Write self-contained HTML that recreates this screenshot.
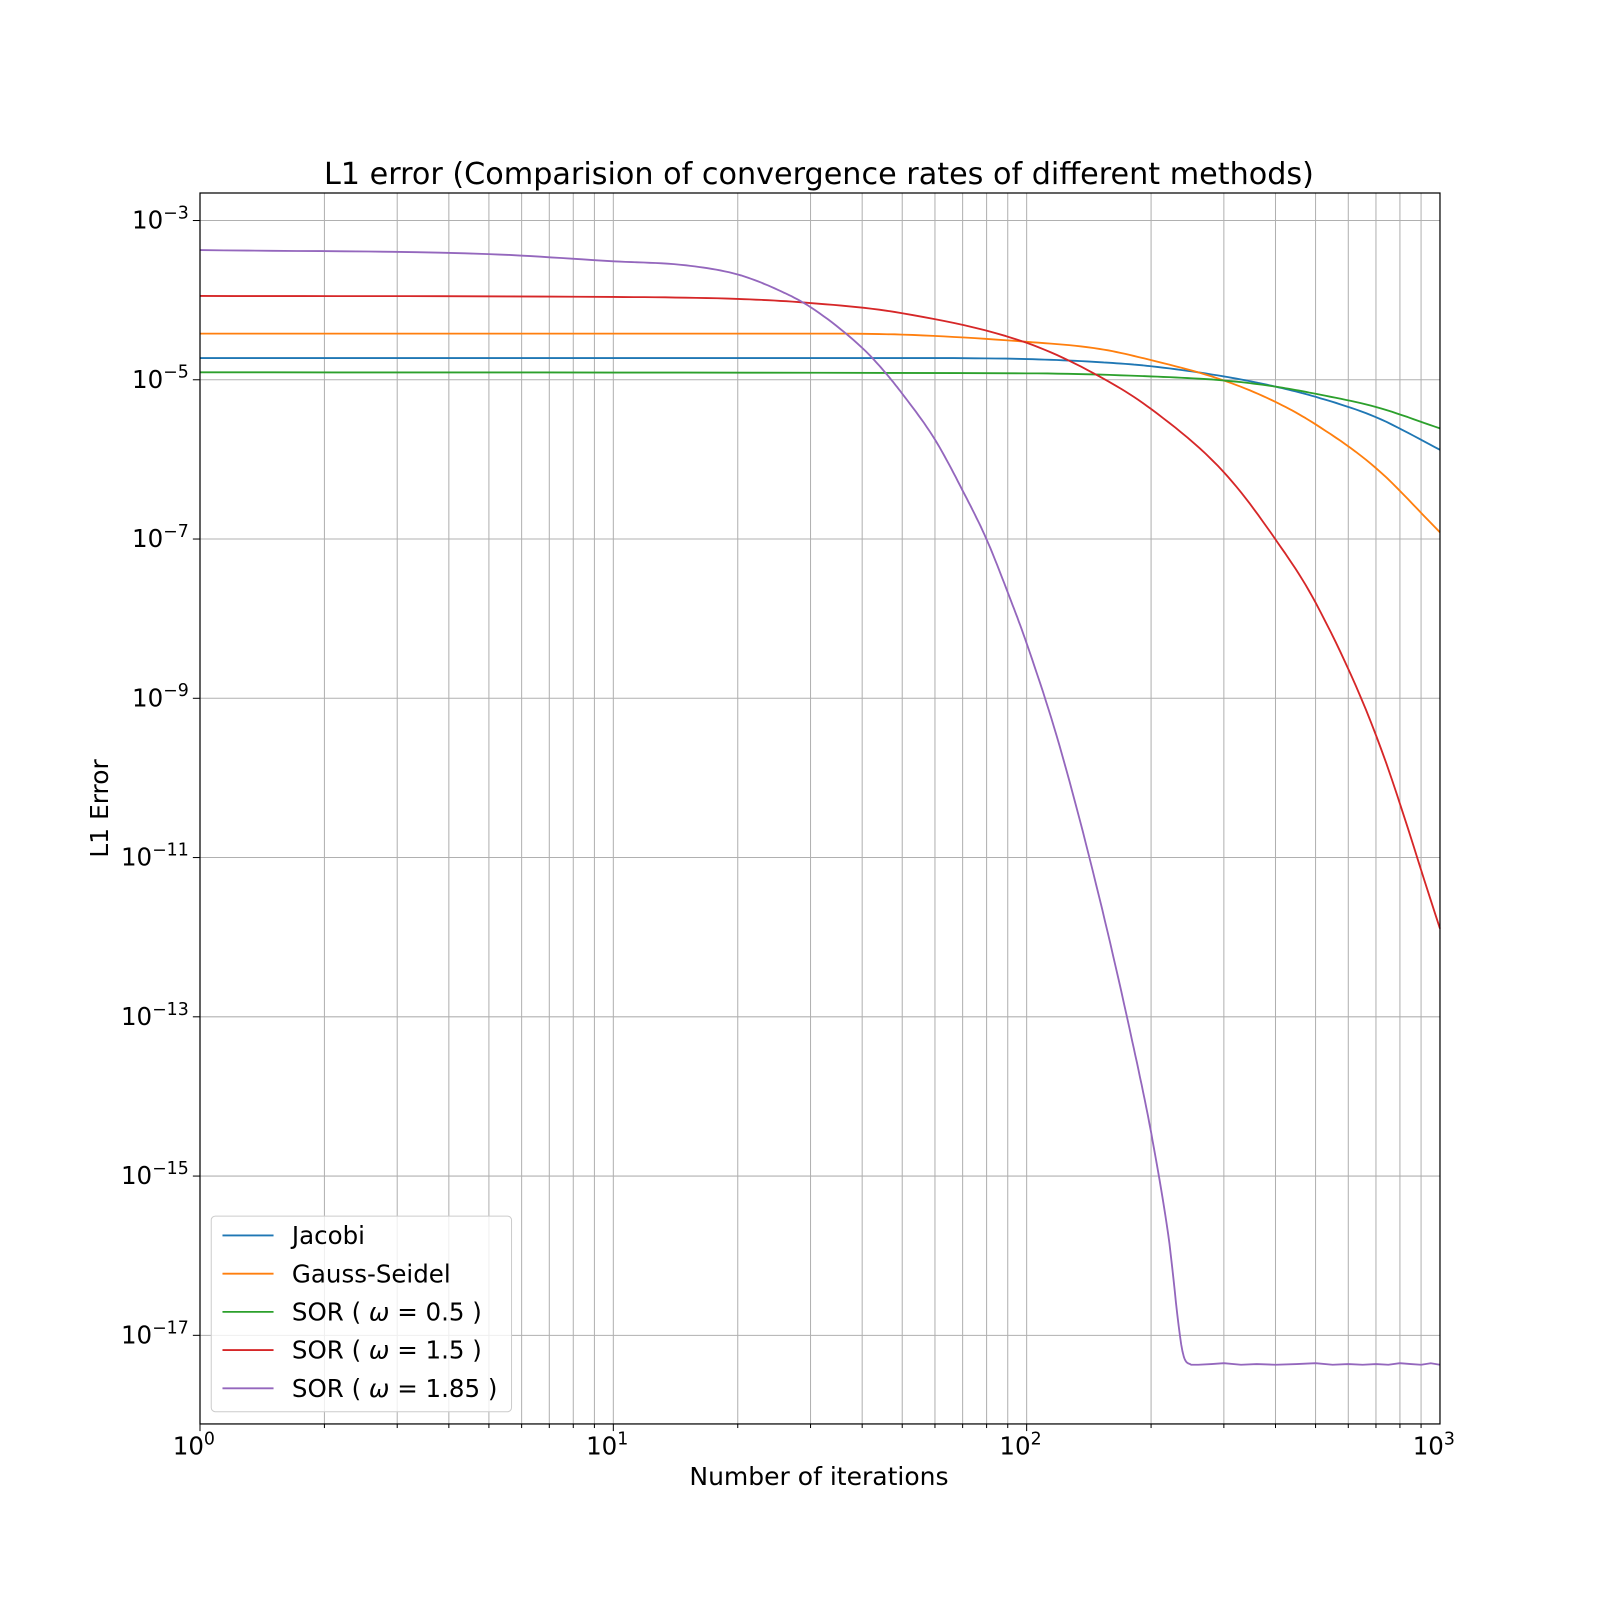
<!DOCTYPE html>
<html><head><meta charset="utf-8"><style>
html,body{margin:0;padding:0;background:#fff;overflow:hidden;width:1600px;height:1600px}
svg{display:block}
svg text{font-family:"DejaVu Sans","Liberation Sans",sans-serif;fill:#000}
</style></head><body>
<svg id="chart" width="1600" height="1600" xmlns="http://www.w3.org/2000/svg">
<rect width="1600" height="1600" fill="#fff"/>
<g transform="translate(200,193) scale(1.0214,1.019) translate(-197,-188)">
<text x="803" y="179" font-size="29.6" text-anchor="middle">L1 error (Comparision of convergence rates of different methods)</text>
<text x="803" y="1456" font-size="24.5" text-anchor="middle">Number of iterations</text>
<text transform="translate(107,792) rotate(-90)" font-size="24.5" text-anchor="middle">L1 Error</text>
<g id="grid"></g><g id="series"></g><g id="ticks"></g>
<rect x="197" y="188" width="1214" height="1208" fill="none" stroke="#000" stroke-width="1.2"/>
<g id="legend"></g>
</g>
</svg>
<script>
const xTickExp=[0,1,2,3];
const yTickExp=[-3,-5,-7,-9,-11,-13,-15,-17];
const seriesNames=["Jacobi","Gauss-Seidel","SOR ( \u03c9 = 0.5 )","SOR ( \u03c9 = 1.5 )","SOR ( \u03c9 = 1.85 )"];
const seriesColors=["#1f77b4","#ff7f0e","#2ca02c","#d62728","#9467bd"];
const jacobiN=[1,50,100,150,200,300,400,500,700,1000];
const jacobiLog=[-4.727,-4.727,-4.740,-4.779,-4.830,-4.958,-5.086,-5.214,-5.470,-5.879];
const gsN=[1,30,50,100,150,200,300,400,500,700,1000];
const gsLog=[-4.420,-4.420,-4.433,-4.523,-4.612,-4.753,-5.009,-5.278,-5.559,-6.109,-6.916];
const sor05N=[1,100,200,300,400,500,700,1000];
const sor05Log=[-4.907,-4.919,-4.958,-5.009,-5.086,-5.176,-5.342,-5.610];
const sor15N=[1,10,20,30,50,100,150,200,300,400,500,700,1000];
const sor15Log=[-3.947,-3.960,-3.985,-4.036,-4.164,-4.536,-4.958,-5.367,-6.161,-7.005,-7.798,-9.462,-11.893];
const sor185N=[1,5,10,15,20,25,30,40,45,50,60,70,80,90,100,120,150,180,200,220,240,250];
const sor185Log=[-3.371,-3.422,-3.512,-3.563,-3.678,-3.870,-4.088,-4.599,-4.881,-5.175,-5.751,-6.391,-7.005,-7.670,-8.310,-9.590,-11.509,-13.301,-14.452,-15.732,-17.268,-17.370];
const sor185TailN=[260,280,300,330,360,400,450,500,550,600,650,700,750,800,850,900,950,1000];
const sor185TailLog=[-17.37,-17.36,-17.35,-17.37,-17.36,-17.37,-17.36,-17.35,-17.37,-17.36,-17.37,-17.36,-17.37,-17.35,-17.36,-17.37,-17.35,-17.37];
const NS="http://www.w3.org/2000/svg";
const X0=197,X1=1411,Y0=188,Y1=1396;
const xMin=0,xMax=3,yTop=-2.6545,yBot=-18.113;
function xs(n){return X0+(Math.log10(n)-xMin)/(xMax-xMin)*(X1-X0);}
function ys(l){return Y0+(yTop-l)/(yTop-yBot)*(Y1-Y0);}
function mk(tag,attrs,parent){const e=document.createElementNS(NS,tag);for(const k in attrs)e.setAttribute(k,attrs[k]);parent.appendChild(e);return e;}
function smooth(ns,ls){
  const x=ns.map(n=>Math.log10(n)),y=ls,n=x.length;
  if(n<3)return ns.map((v,i)=>[xs(v),ys(ls[i])]);
  const d=[],m=[];
  for(let i=0;i<n-1;i++)d.push((y[i+1]-y[i])/(x[i+1]-x[i]));
  m[0]=d[0];m[n-1]=d[n-2];
  for(let i=1;i<n-1;i++)m[i]=(d[i-1]*d[i]<=0)?0:(d[i-1]+d[i])/2;
  for(let i=0;i<n-1;i++){if(d[i]===0){m[i]=0;m[i+1]=0;continue;}
    const a=m[i]/d[i],b=m[i+1]/d[i],s=a*a+b*b;if(s>9){const t=3/Math.sqrt(s);m[i]=t*a*d[i];m[i+1]=t*b*d[i];}}
  const out=[];
  for(let i=0;i<n-1;i++){const h=x[i+1]-x[i];
    for(let k=0;k<12;k++){const t=k/12,t2=t*t,t3=t2*t;
      const v=(2*t3-3*t2+1)*y[i]+(t3-2*t2+t)*h*m[i]+(-2*t3+3*t2)*y[i+1]+(t3-t2)*h*m[i+1];
      const xv=x[i]+t*h;out.push([X0+(xv-xMin)/(xMax-xMin)*(X1-X0),ys(v)]);}}
  out.push([xs(ns[n-1]),ys(y[n-1])]);return out;
}
const grid=document.getElementById('grid'),ticks=document.getElementById('ticks');
for(let d=0;d<3;d++)for(let m=1;m<10;m++){
  const x=xs(m*Math.pow(10,d));
  const g=mk('line',{x1:x,x2:x,y1:Y0,y2:Y1,stroke:'#b0b0b0','stroke-width':1},grid);
  
  
  const t=mk('line',{x1:x,x2:x,y1:Y1,y2:Y1+(m==1?7:4),stroke:'#000','stroke-width':1},ticks);
  
  
}
xTickExp.forEach(e=>{
  const x=xs(Math.pow(10,e));
  const t=mk('text',{x:x-6,y:1426,'font-size':24,'text-anchor':'middle'},ticks);
  t.innerHTML='10<tspan dy="-10" font-size="17">'+e+'</tspan>';
  
  
});
yTickExp.forEach(e=>{
  const y=ys(e);
  const g=mk('line',{x1:X0,x2:X1,y1:y,y2:y,stroke:'#b0b0b0','stroke-width':1},grid);
  
  
  const tk=mk('line',{x1:X0-7,x2:X0,y1:y,y2:y,stroke:'#000'},ticks);
  
  
  const t=mk('text',{x:186,y:y+8,'font-size':24,'text-anchor':'end'},ticks);
  t.innerHTML='10<tspan dy="-10" font-size="17">\u2212'+Math.abs(e)+'</tspan>';
  
  
});
const allN=[jacobiN,gsN,sor05N,sor15N,sor185N],allL=[jacobiLog,gsLog,sor05Log,sor15Log,sor185Log];
const ser=document.getElementById('series');
allN.forEach((ns,i)=>{
  let pts=smooth(ns,allL[i]);
  if(i===4)pts=pts.concat(sor185TailN.map((n,j)=>[xs(n),ys(sor185TailLog[j])]));
  const p=mk('polyline',{points:pts.map(q=>q[0].toFixed(1)+','+q[1].toFixed(1)).join(' '),fill:'none',stroke:seriesColors[i],'stroke-width':1.8,'stroke-linejoin':'round'},ser);
  
  
});
const lg=document.getElementById('legend');
const box=mk('rect',{x:208,y:1192,width:294,height:192,rx:4,fill:'#fff','fill-opacity':0.8,stroke:'#ccc'},lg);


seriesNames.forEach((s,i)=>{
  const y=1211+i*37.5;
  const l=mk('line',{x1:219,x2:269,y1:y,y2:y,stroke:seriesColors[i],'stroke-width':1.8},lg);
  
  
  const t=mk('text',{x:287,y:y+8.5,'font-size':24},lg);
  t.innerHTML=s.replace('\u03c9','<tspan font-style="italic">\u03c9</tspan>');
  
  
});
</script>
</body></html>
